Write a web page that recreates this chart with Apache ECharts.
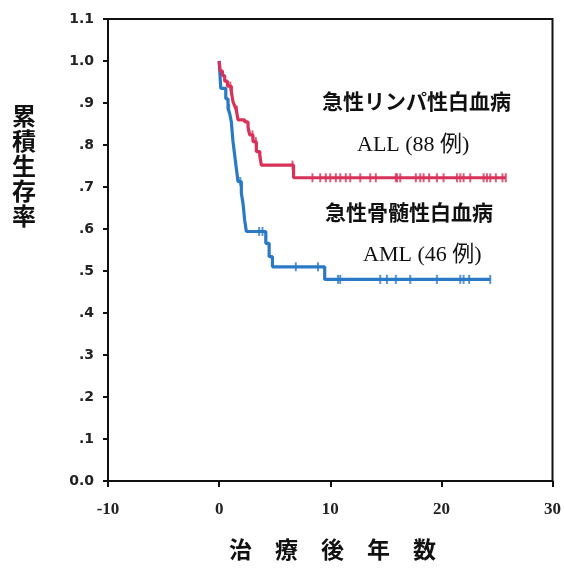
<!DOCTYPE html>
<html><head><meta charset="utf-8">
<script src="https://cdn.jsdelivr.net/npm/echarts@6/dist/echarts.min.js"></script>
<style>html,body{margin:0;padding:0;background:#fff}#c{width:564px;height:568px}</style>
</head><body><div id="c"></div>
<script>
// 急性リンパ性白血病 ALL (88例): Kaplan-Meier step points
const allTimes = [0, 0.1, 0.3, 0.5, 0.75, 1.1, 1.25, 1.4, 1.55, 1.7, 2.3, 2.6, 2.75, 3.05, 3.35, 3.65, 3.8, 6.7, 25.8];
const allSurv  = [1.0, 0.976, 0.965, 0.952, 0.94, 0.927, 0.903, 0.893, 0.883, 0.86, 0.855, 0.843, 0.824, 0.808, 0.784, 0.776, 0.752, 0.722, 0.722];
const allCensor = [1.0, 1.6, 2.6, 3.0, 3.3, 3.7, 6.6, 8.4, 9.1, 9.6, 10.0, 10.5, 10.9, 11.4, 11.8, 12.7, 13.6, 14.1, 15.9, 16.0, 16.3, 17.7, 18.1, 18.4, 18.9, 19.6, 20.2, 21.4, 21.7, 22.0, 22.6, 23.8, 24.1, 24.4, 24.9, 25.5, 25.8];
// 急性骨髄性白血病 AML (46例)
const amlTimes = [0, 0.15, 0.6, 0.8, 0.95, 1.1, 1.25, 1.4, 1.55, 1.7, 2.0, 2.15, 2.3, 2.45, 4.2, 4.5, 4.8, 9.5, 24.4];
const amlSurv  = [1.0, 0.935, 0.91, 0.887, 0.875, 0.855, 0.808, 0.776, 0.744, 0.713, 0.685, 0.661, 0.621, 0.594, 0.566, 0.534, 0.51, 0.48, 0.48];
const amlCensor = [0.9, 1.9, 3.6, 3.9, 6.9, 8.9, 10.7, 10.9, 14.5, 15.1, 15.9, 17.2, 19.6, 21.7, 22.0, 22.5, 24.4];
// axes
const xTicks = [-10, 0, 10, 20, 30];
const yMax = 1.1;
const labels = {
  allName: '急性リンパ性白血病', allCount: 'ALL (88 例)',
  amlName: '急性骨髄性白血病', amlCount: 'AML (46 例)',
  yTitle: '累積生存率', xTitle: '治　療　後　年　数'
};

const RED = '#d8325a', BLUE = '#2a79c6';
function survAt(times, surv, t){ let s = surv[0]; for(let i=0;i<times.length;i++){ if(times[i] <= t) s = surv[i]; } return s; }
const pts = (ts, ss) => ts.map((t,i)=>[t, ss[i]]);
const cens = (cs, ts, ss) => cs.map(t=>[t, survAt(ts, ss, t)]);

const chart = echarts.init(document.getElementById('c'), null, {renderer:'canvas'});
chart.setOption({
  animation:false,
  backgroundColor:'#fff',
  grid:{left:108, right:8, top:19, bottom:87, show:true, borderColor:'#111', borderWidth:2, backgroundColor:'transparent'},
  xAxis:{type:'value', min:xTicks[0], max:xTicks[xTicks.length-1], interval:10,
    axisLine:{show:true, onZero:false, lineStyle:{color:'#111', width:2}},
    axisTick:{show:true, length:6, lineStyle:{color:'#111', width:2}},
    splitLine:{show:false},
    axisLabel:{margin:20, color:'#222', fontFamily:'Liberation Serif', fontWeight:'bold', fontSize:17}},
  yAxis:{type:'value', min:0, max:yMax, interval:0.1,
    axisLine:{show:true, onZero:false, lineStyle:{color:'#111', width:2}},
    axisTick:{show:true, length:5, lineStyle:{color:'#111', width:2}},
    splitLine:{show:false},
    axisLabel:{margin:14, color:'#222', fontFamily:'DejaVu Sans', fontWeight:'bold', fontSize:14,
      formatter:v=>{ const s=(Math.round(v*10)/10).toFixed(1); return (v>0 && v<1-1e-9) ? s.slice(1) : s; }}},
  series:[
    {type:'line', step:'end', data:pts(allTimes, allSurv), symbol:'none', lineStyle:{color:RED, width:3.2}, z:3},
    {type:'line', step:'end', data:pts(amlTimes, amlSurv), symbol:'none', lineStyle:{color:BLUE, width:3.2}, z:2},
    {type:'scatter', data:cens(allCensor, allTimes, allSurv), symbol:'rect', symbolSize:[2,9], itemStyle:{color:RED}, z:4},
    {type:'scatter', data:cens(amlCensor, amlTimes, amlSurv), symbol:'rect', symbolSize:[2,9], itemStyle:{color:BLUE}, z:4}
  ],
  graphic:[
    {type:'text', left:322, top:91, style:{text:labels.allName, font:'bold 21px "Noto Sans CJK JP"', fill:'#111'}},
    {type:'text', left:357, top:134, style:{text:labels.allCount, font:'22px "Liberation Serif", "Noto Sans CJK JP"', fill:'#111'}},
    {type:'text', left:325, top:202, style:{text:labels.amlName, font:'bold 21px "Noto Sans CJK JP"', fill:'#111'}},
    {type:'text', left:363, top:244, style:{text:labels.amlCount, font:'22px "Liberation Serif", "Noto Sans CJK JP"', fill:'#111'}},
    {type:'text', left:12, top:103, style:{text:labels.yTitle.split('').join('\n'), font:'bold 24px "Noto Sans CJK JP"', lineHeight:25, fill:'#111'}},
    {type:'text', left:229, top:538, style:{text:labels.xTitle, font:'bold 23px "Noto Sans CJK JP"', fill:'#111'}}
  ]
});
</script></body></html>
